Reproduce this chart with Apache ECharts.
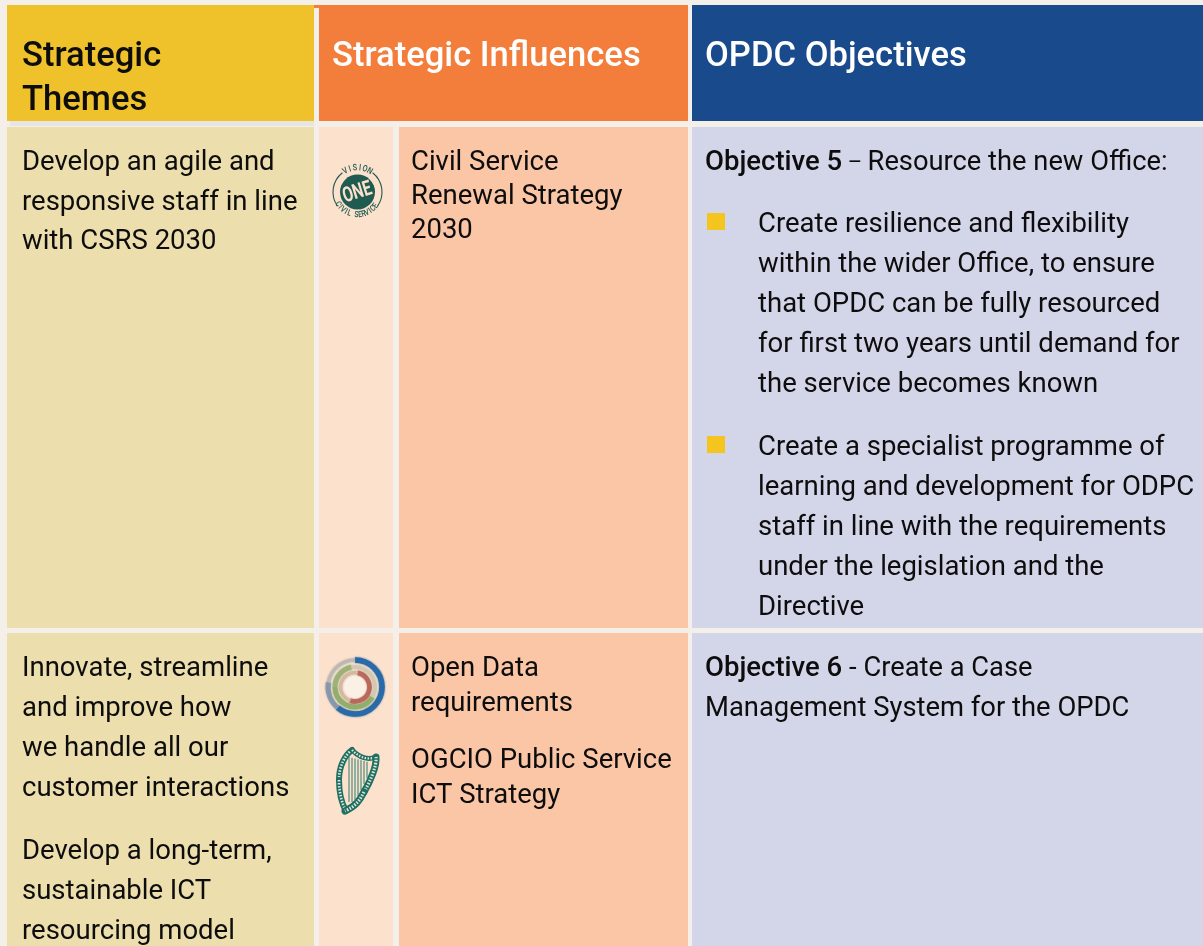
<!DOCTYPE html>
<html><head><meta charset="utf-8">
<style>html,body{margin:0;padding:0;background:#f5efe9}#c{width:1203px;height:946px}</style>
<script src="https://cdn.jsdelivr.net/npm/echarts@6/dist/echarts.min.js"></script>
</head><body><div id="c"></div>
<script>
// ---- content ----
const headerThemes = ['Strategic', 'Themes'];
const headerInfluences = ['Strategic Influences'];
const headerObjectives = ['OPDC Objectives'];
const themesRow1 = ['Develop an agile and', 'responsive staff in line', 'with CSRS 2030'];
const influencesRow1 = ['Civil Service', 'Renewal Strategy', '2030'];
const objective5Title = ['Objective 5', ' – ', 'Resource the new Office:'];
const objective5BulletA = ['Create resilience and flexibility', 'within the wider Office, to ensure', 'that OPDC can be fully resourced', 'for first two years until demand for', 'the service becomes known'];
const objective5BulletB = ['Create a specialist programme of', 'learning and development for ODPC', 'staff in line with the requirements', 'under the legislation and the', 'Directive'];
const themesRow2A = ['Innovate, streamline', 'and improve how', 'we handle all our', 'customer interactions'];
const themesRow2B = ['Develop a long-term,', 'sustainable ICT', 'resourcing model'];
const influencesRow2A = ['Open Data', 'requirements'];
const influencesRow2B = ['OGCIO Public Service', 'ICT Strategy'];
const objective6Title = ['Objective 6', ' - ', 'Create a Case'];
const objective6Rest = ['Management System for the OPDC'];

// ---- drawing helpers ----
const FONT = 'Roboto';
const BODY = 27.5, HEAD = 34.6, INK = '#0d0d0d';
const els = [];
const rect = (x, y, w, h, fill) => els.push({type:'rect', silent:true, shape:{x, y, width:w, height:h}, style:{fill}});
function lines(arr, x, y, step, size, fill, weight) {
  arr.forEach((t, i) => els.push({type:'text', silent:true, x, y: y + i * step,
    style:{text:t, fontFamily:FONT, fontSize:size, fontWeight:weight || 400, fill, textAlign:'left', textVerticalAlign:'middle'}}));
}
function titled(parts, x, y, sepSize) {
  els.push({type:'text', silent:true, x, y, style:{
    text:'{b|' + parts[0] + '}{s|' + parts[1] + '}{n|' + parts[2] + '}', textAlign:'left', textVerticalAlign:'middle',
    rich:{b:{fontFamily:FONT, fontSize:BODY, fontWeight:500, fill:INK},
          s:{fontFamily:FONT, fontSize:sepSize, fill:INK},
          n:{fontFamily:FONT, fontSize:BODY - 0.2, fill:INK}}}});
}

// ---- page cells ----
rect(7, 5, 307, 116, '#efc22b');
rect(314, 5, 374, 116, '#f37e3b');
rect(692, 5, 511, 116, '#184a8c');
rect(10, 121, 304, 5, '#e6e5e3');
[[127, 501], [633, 313]].forEach(([y, h]) => {
  rect(7, y, 307, h, '#eddeae');
  rect(319, y, 74, h, '#fce1cd');
  rect(399, y, 289, h, '#fac6a5');
  rect(692, y, 511, h, '#d3d5e8');
});
rect(314, 8, 5, 113, '#f5efe9');
rect(688, 8, 4, 113, '#f5efe9');

// ---- text ----
lines(headerThemes, 22, 57, 44, HEAD, INK, 500);
lines(headerInfluences, 332, 57, 44, HEAD, '#ffffff', 500);
lines(headerObjectives, 705, 57, 44, HEAD, '#ffffff', 500);
lines(themesRow1, 22, 163, 39.7, BODY, INK);
lines(influencesRow1, 411, 163, 34.3, BODY, INK);
titled(objective5Title, 705, 163, 22);
lines(objective5BulletA, 758, 225, 40, BODY, INK);
lines(objective5BulletB, 758, 448, 40, BODY, INK);
lines(themesRow2A, 22, 669, 40, BODY, INK);
lines(themesRow2B, 22, 852, 40, BODY, INK);
lines(influencesRow2A, 411, 669, 35, BODY, INK);
lines(influencesRow2B, 411, 761, 35, BODY, INK);
titled(objective6Title, 705, 669, BODY);
lines(objective6Rest, 705, 709, 40, BODY - 0.1, INK);

// bullets
rect(707, 213, 18, 17, '#f5c51f');
rect(707, 436, 18, 17, '#f5c51f');

// ---- logos ----
const GREEN = '#1f5b50';
const ringArc = (cx, cy, r, a0, a1, color, w, opacity, blur) => els.push({type:'arc', silent:true,
  shape:{cx, cy, r, startAngle:a0 * Math.PI / 180, endAngle:a1 * Math.PI / 180},
  style:{stroke:color, lineWidth:w, fill:'none', opacity: opacity == null ? 1 : opacity,
         shadowBlur: blur || 0, shadowColor: color}});
// Vision One Civil Service roundel
const lx = 357.5, ly = 192;
els.push({type:'circle', silent:true, shape:{cx:lx, cy:ly, r:17.5}, style:{fill:GREEN}});
ringArc(lx, ly, 24.5, -52, 35, GREEN, 1.1);
ringArc(lx, ly, 24.5, 145, 232, GREEN, 1.1);
els.push({type:'text', silent:true, x:lx, y:ly + 1, rotation:0.3, scaleX:0.72, scaleY:1,
  style:{text:'ONE', fontFamily:FONT, fontWeight:700, fontSize:21, fill:'#fce1cd', textAlign:'center', textVerticalAlign:'middle'}});
function curved(str, radius, startDeg, stepDeg, flip, size) {
  [...str].forEach((ch, i) => {
    const a = (startDeg + i * stepDeg) * Math.PI / 180;
    els.push({type:'text', silent:true, x: lx + radius * Math.sin(a), y: ly - radius * Math.cos(a),
      rotation: flip ? Math.PI - a : -a, scaleX:0.8,
      style:{text:ch, fontFamily:FONT, fontSize:size, fontWeight:500, fill:GREEN, textAlign:'center', textVerticalAlign:'middle'}});
  });
}
curved('VISION', 24, -30, 12, false, 9);
curved('CIVIL SERVICE', 23, 238, -9.2, true, 8.5);

// Open data ring
const ox = 355, oy = 687;
els.push({type:'circle', silent:true, shape:{cx:ox, cy:oy, r:28}, style:{fill:'#f6e3d3'}});
els.push({type:'circle', silent:true, shape:{cx:ox, cy:oy, r:11}, style:{fill:'#faf0e6'}});
ringArc(ox, oy, 27, -90, 130, '#2a6aa6', 5.5, 1, 2);
ringArc(ox, oy, 27, 130, 190, '#7f93a8', 5, 0.8, 2);
ringArc(ox, oy, 27, 190, 270, '#a9aaa6', 4, 0.5, 2);
ringArc(ox, oy, 20, 30, 180, '#93ad6c', 5, 1, 2);
ringArc(ox, oy, 20, 180, 260, '#9bb077', 5, 0.9, 2);
ringArc(ox, oy, 20, 260, 390, '#cfc5ac', 4, 0.7, 2);
ringArc(ox, oy, 14.5, -80, 110, '#b9695c', 4.5, 1, 1.5);
ringArc(ox, oy, 14.5, 110, 280, '#d3b7a0', 3.5, 0.9, 1.5);

// Harp emblem
const HARP = '#1f6f62', HARP_LIGHT = '#dfe6d8';
const harpCurves = [
  [352, 750, 345, 755, 339, 766, 339, 780, 6],
  [339, 780, 339, 792, 342, 804, 346, 811, 6],
  [352, 750, 358, 756, 366, 761, 376, 757, 5],
  [376, 757, 377, 766, 370, 782, 364, 792, 7],
  [364, 792, 360, 800, 356, 806, 345, 811, 7]
];
[349, 352, 355, 358, 361, 364, 367].forEach((sx, i) => els.push({type:'line', silent:true,
  shape:{x1:sx, y1:757 + i * 0.8, x2:sx, y2:[802, 802, 800, 796, 790, 784, 778][i]}, style:{stroke:'#2c7d70', lineWidth:1}}));
harpCurves.forEach(([x1, y1, cpx1, cpy1, cpx2, cpy2, x2, y2, w]) => {
  els.push({type:'bezierCurve', silent:true, shape:{x1, y1, cpx1, cpy1, cpx2, cpy2, x2, y2},
    style:{stroke:HARP, lineWidth:w, fill:'none', lineCap:'round'}});
  els.push({type:'bezierCurve', silent:true, shape:{x1, y1, cpx1, cpy1, cpx2, cpy2, x2, y2},
    style:{stroke:HARP_LIGHT, lineWidth:w * 0.45, lineDash:[1.5, 1.5], fill:'none'}});
});

const chart = echarts.init(document.getElementById('c'), null, {renderer:'canvas', width:1203, height:946});
chart.setOption({backgroundColor:'#f5efe9', animation:false, graphic:{elements:els}});
</script></body></html>
